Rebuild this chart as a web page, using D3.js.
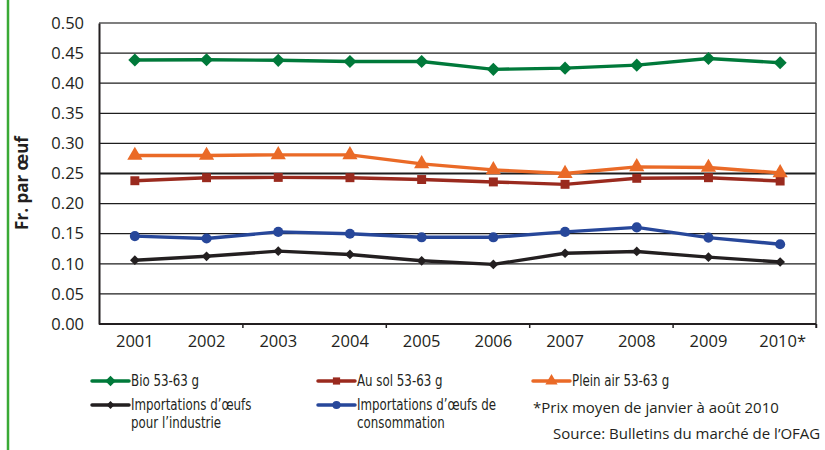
<!DOCTYPE html>
<html><head><meta charset="utf-8">
<script src="https://cdn.jsdelivr.net/npm/d3@7"></script>
<style>
html,body{margin:0;padding:0;background:#fff;}
svg{display:block;}
</style></head>
<body><svg id="c" width="825" height="450"></svg>
<script>
const years = ["2001","2002","2003","2004","2005","2006","2007","2008","2009","2010*"];
const yTicks = [0,0.05,0.10,0.15,0.20,0.25,0.30,0.35,0.40,0.45,0.50];
const bio = [0.4385,0.439,0.438,0.436,0.436,0.423,0.425,0.430,0.441,0.434];
const pleinAir = [0.280,0.280,0.281,0.281,0.266,0.256,0.250,0.261,0.260,0.251];
const auSol = [0.238,0.243,0.2435,0.243,0.240,0.236,0.232,0.242,0.243,0.2375];
const importConso = [0.146,0.142,0.153,0.150,0.144,0.144,0.153,0.1605,0.1435,0.1325];
const importIndus = [0.106,0.1125,0.121,0.1155,0.105,0.099,0.1175,0.1205,0.111,0.103];
const seriesNames = ["Bio 53-63 g","Au sol 53-63 g","Plein air 53-63 g","Importations d\u2019œufs|pour l\u2019industrie","Importations d\u2019œufs de|consommation"];

const series = [
  {name:seriesNames[0], values:bio, color:"#00793a", sym:d3.symbolDiamond2, size:110},
  {name:seriesNames[1], values:auSol, color:"#9a2a1e", sym:d3.symbolSquare, size:80},
  {name:seriesNames[2], values:pleinAir, color:"#ea6a27", sym:d3.symbolTriangle, size:100},
  {name:seriesNames[3], values:importIndus, color:"#231f20", sym:d3.symbolDiamond2, size:60},
  {name:seriesNames[4], values:importConso, color:"#27479a", sym:d3.symbolCircle, size:80}
];
const drawOrder = [4,3,1,2,0];

const svg = d3.select("#c");
const L=99, R=816, T=23, B=324;
const FONT = "'Open Sans',sans-serif";
const NARROW = "'Liberation Sans Narrow','DejaVu Sans Condensed',sans-serif";
const x = d3.scaleBand().domain(years).range([L,R]).padding(0);
const xb = d3.scaleLinear().domain([0,years.length]).range([L,R]);
const y = d3.scaleLinear().domain([0,0.5]).range([B,T]);

svg.append("line").attr("x1",8).attr("x2",8).attr("y1",0).attr("y2",450)
  .attr("stroke","#3aaa35").attr("stroke-width",2.5);

svg.append("g").selectAll("line").data(yTicks.filter(d=>d>0)).join("line")
  .attr("x1",L).attr("x2",R).attr("y1",d=>y(d)).attr("y2",d=>y(d))
  .attr("stroke",d=>d===0.5?"#555":"#1e1e1e").attr("stroke-width",d=>d===0.25?1.8:1.3);

svg.append("line").attr("x1",R).attr("x2",R).attr("y1",T).attr("y2",B+4)
  .attr("stroke","#444").attr("stroke-width",1.5);

const ya = svg.append("g").attr("transform",`translate(${L},0)`)
  .call(d3.axisLeft(y).tickValues(yTicks).tickFormat(d3.format(".2f")).tickSize(0).tickPadding(15));
ya.select(".domain").attr("stroke","#231f20").attr("stroke-width",2);
ya.selectAll("text").attr("font-family",FONT).attr("font-size",16.5).attr("fill","#231f20");

const xa = svg.append("g").attr("transform",`translate(0,${B})`)
  .call(d3.axisBottom(x).tickSize(0).tickPadding(11));
xa.select(".domain").remove();
xa.selectAll("text").attr("font-family",FONT).attr("font-size",16.5).attr("fill","#231f20")
  .attr("dx",d=>d.endsWith("*")?"0.15em":0);
const xt = svg.append("g").attr("transform",`translate(0,${B})`)
  .call(d3.axisBottom(xb).tickValues([2,4,6,8,10]).tickSize(4).tickFormat(""));
xt.select(".domain").attr("d",`M${L},0H${R}`).attr("stroke","#231f20").attr("stroke-width",2);
xt.selectAll(".tick line").attr("stroke","#231f20").attr("stroke-width",1.5);

svg.append("text").attr("transform","translate(28,183) rotate(-90)")
  .attr("text-anchor","middle").attr("font-family",FONT)
  .attr("font-weight","bold").attr("font-size",17).attr("fill","#231f20").text("Fr. par œuf");

const line = d3.line().x((d,i)=>x(years[i])+x.bandwidth()/2).y(d=>y(d));
drawOrder.forEach(k=>{
  const s = series[k];
  const g = svg.append("g");
  g.append("path").datum(s.values).attr("d",line).attr("fill","none")
    .attr("stroke",s.color).attr("stroke-width",3.4).attr("stroke-linejoin","round");
  g.selectAll("path.m").data(s.values).join("path").attr("class","m")
    .attr("transform",(d,i)=>`translate(${x(years[i])+x.bandwidth()/2},${y(d)})`)
    .attr("d",d3.symbol().type(s.sym).size(s.size)).attr("fill",s.color);
});

const legendPos = [
  {x:92,y:381},{x:318,y:381},{x:533,y:381},{x:92,y:405},{x:318,y:405}
];
series.forEach((s,i)=>{
  const p = legendPos[i];
  const g = svg.append("g").attr("transform",`translate(${p.x},${p.y})`);
  g.append("line").attr("x1",0).attr("x2",37).attr("y1",0).attr("y2",0)
    .attr("stroke",s.color).attr("stroke-width",3.5).attr("stroke-linecap","round");
  g.append("path").attr("transform","translate(18.5,0)")
    .attr("d",d3.symbol().type(s.sym).size(s.size*0.65)).attr("fill",s.color);
  const lines = s.name.split("|");
  const t = g.append("text").attr("transform","translate(39,5) scale(0.85,1)")
    .attr("font-family",NARROW).attr("font-size",15.5).attr("fill","#231f20");
  lines.forEach((ln,j)=>t.append("tspan").attr("x",0).attr("dy",j===0?0:18).text(ln));
});

svg.append("text").attr("x",533).attr("y",413).attr("font-family",FONT)
  .attr("font-size",15).attr("fill","#231f20").text("*Prix moyen de janvier à août 2010");
svg.append("text").attr("x",553).attr("y",439).attr("font-family",FONT)
  .attr("font-size",15).attr("fill","#231f20").text("Source: Bulletins du marché de l\u2019OFAG");
</script></body></html>
